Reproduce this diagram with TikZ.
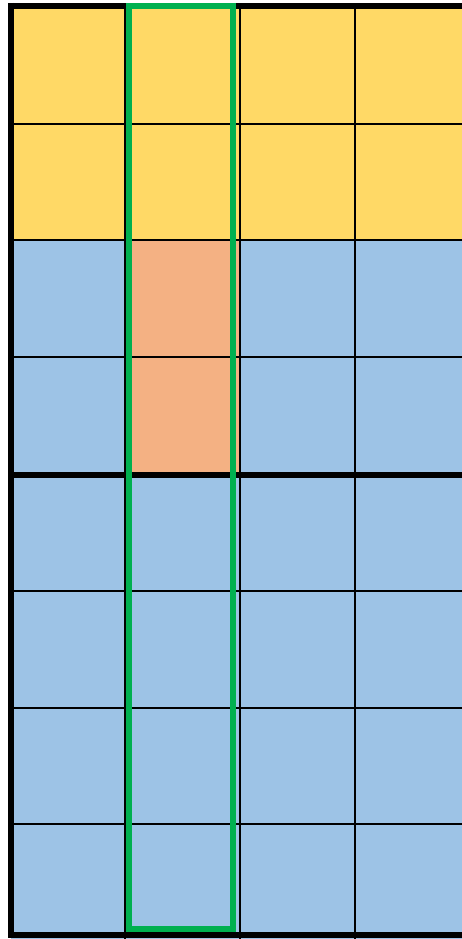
\documentclass[tikz,border=0pt]{standalone}
\usetikzlibrary{positioning}
\definecolor{Yc}{HTML}{FFD966}
\definecolor{Bc}{HTML}{9DC3E6}
\definecolor{Oc}{HTML}{F4B183}
\definecolor{Gc}{HTML}{00B050}
\tikzset{
  gridln/.style={black, line width=2pt},
  boldln/.style={black, line width=6pt},
  colbox/.style={draw=Gc, line width=6pt},
}

\begin{document}
\begin{tikzpicture}[x=1pt, y=-1pt]
  \useasboundingbox (0,0) rectangle (462,939);
  \clip (0,0) rectangle (462,939);
  % cells
  \fill[Yc] (11,6) rectangle (470,239.5);
  \fill[Bc] (11,239.5) rectangle (470,945);
  \fill[Oc] (125,239.5) rectangle (239.5,475);
  % thin grid
  \foreach \yy in {123.7,239.5,357,590.7,707.7,823.7}
    \draw[gridln] (11,\yy) -- (470,\yy);
  \foreach \xx in {125,239.5,355}
    \draw[gridln] (\xx,6) -- (\xx,945);
  % bold borders
  \foreach \yy in {6,475,934.5}
    \draw[boldln] (11,\yy) -- (470,\yy);
  \draw[boldln] (11,3) -- (11,937.5);
  % selected column
  \draw[colbox] (129,6) rectangle (233,929);
\end{tikzpicture}
\end{document}
